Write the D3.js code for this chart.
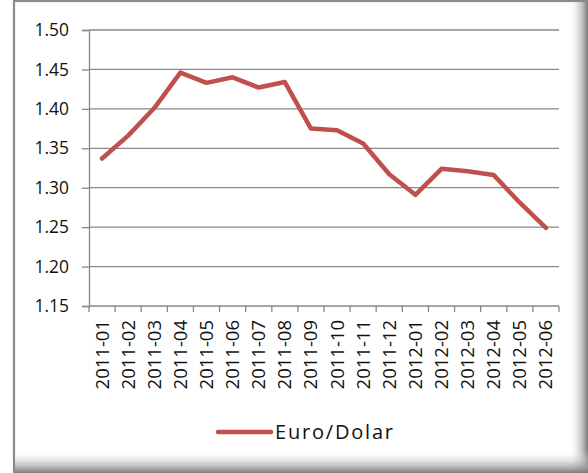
<!DOCTYPE html>
<html>
<head>
<meta charset="utf-8">
<script src="https://cdn.jsdelivr.net/npm/d3@7"></script>
<style>
  body { margin: 0; background: #fff; }
  svg { display: block; font-family: "Open Sans", "Liberation Sans", sans-serif; }
</style>
</head>
<body>
<svg id="chart" width="588" height="473"></svg>
<script>
// monthly Euro/Dollar rate
const months = ["2011-01", "2011-02", "2011-03", "2011-04", "2011-05", "2011-06",
  "2011-07", "2011-08", "2011-09", "2011-10", "2011-11", "2011-12",
  "2012-01", "2012-02", "2012-03", "2012-04", "2012-05", "2012-06"];
const rates = [1.337, 1.366, 1.401, 1.446, 1.433, 1.440, 1.427, 1.434, 1.375,
  1.373, 1.356, 1.317, 1.291, 1.324, 1.321, 1.316, 1.281, 1.249];
const yTicks = [1.15, 1.20, 1.25, 1.30, 1.35, 1.40, 1.45, 1.50];
const seriesName = "Euro/Dolar";

const W = 588, H = 473;
const svg = d3.select("#chart");
const defs = svg.append("defs");

// frame with the soft shadow at right and bottom
const gr = defs.append("linearGradient").attr("id", "shR").attr("x1", 0).attr("x2", 1).attr("y1", 0).attr("y2", 0);
gr.append("stop").attr("offset", 0).attr("stop-color", "#fff").attr("stop-opacity", 0);
gr.append("stop").attr("offset", 1).attr("stop-color", "#7a7a7a");
const gb = defs.append("linearGradient").attr("id", "shB").attr("x1", 0).attr("x2", 0).attr("y1", 0).attr("y2", 1);
gb.append("stop").attr("offset", 0).attr("stop-color", "#fff").attr("stop-opacity", 0);
gb.append("stop").attr("offset", 1).attr("stop-color", "#7a7a7a");

svg.append("rect").attr("x", 14).attr("y", 1).attr("width", W).attr("height", H)
  .attr("fill", "#fff").attr("stroke", "#8a8a8a").attr("stroke-width", 2.2);
svg.append("rect").attr("x", 569).attr("y", 2).attr("width", 19).attr("height", H)
  .attr("fill", "url(#shR)");
svg.append("rect").attr("x", 15).attr("y", 450).attr("width", W).attr("height", 23)
  .attr("fill", "url(#shB)");

const m = { left: 89, right: 559, top: 30, bottom: 306 };

const x = d3.scaleBand().domain(months).range([m.left, m.right]);
const y = d3.scaleLinear().domain([1.15, 1.50]).range([m.bottom, m.top]);

// gridlines
svg.append("g").selectAll("line").data(yTicks.slice(1)).join("line")
  .attr("x1", m.left).attr("x2", m.right)
  .attr("y1", d => y(d)).attr("y2", d => y(d))
  .attr("stroke", "#888").attr("stroke-width", 1.3);

// y axis
const yAxis = svg.append("g").attr("transform", `translate(${m.left},0)`)
  .call(d3.axisLeft(y).tickValues(yTicks).tickFormat(d3.format(".2f")).tickSize(7).tickPadding(13));
yAxis.select(".domain").attr("stroke", "#888").attr("stroke-width", 1.3);
yAxis.selectAll(".tick line").attr("stroke", "#888").attr("stroke-width", 1.3);
yAxis.selectAll("text").attr("font-size", 17.4).attr("fill", "#111")
  .attr("font-family", "'Open Sans', sans-serif");

// x axis, ticks between categories
const xg = svg.append("g").attr("transform", `translate(0,${m.bottom})`);
xg.append("line").attr("x1", m.left).attr("x2", m.right)
  .attr("stroke", "#888").attr("stroke-width", 1.3);
const edges = months.map(d => x(d)).concat([x(months[months.length - 1]) + x.bandwidth()]);
xg.selectAll(".tk").data(edges).join("line").attr("class", "tk")
  .attr("x1", d => d).attr("x2", d => d).attr("y1", 0).attr("y2", 6)
  .attr("stroke", "#888").attr("stroke-width", 1.3);
xg.selectAll("text").data(months).join("text")
  .attr("transform", d => `translate(${x(d) + x.bandwidth() / 2 + 6.5},14) rotate(-90)`)
  .attr("text-anchor", "end")
  .attr("font-size", 18.5).attr("fill", "#111")
  .text(d => d);

// series line
const line = d3.line()
  .x((d, i) => x(months[i]) + x.bandwidth() / 2)
  .y(d => y(d));
svg.append("path").datum(rates)
  .attr("d", line)
  .attr("fill", "none").attr("stroke", "#c0504d").attr("stroke-width", 4.5)
  .attr("stroke-linejoin", "round").attr("stroke-linecap", "round");

// legend
const lg = svg.append("g").attr("transform", "translate(218,432)");
lg.append("line").attr("x1", 0).attr("x2", 53)
  .attr("stroke", "#c0504d").attr("stroke-width", 4.5).attr("stroke-linecap", "round");
lg.append("text").attr("x", 57).attr("y", 7).attr("font-size", 20).attr("fill", "#111")
  .attr("textLength", 118).attr("lengthAdjust", "spacing")
  .text(seriesName);
</script>
</body>
</html>
